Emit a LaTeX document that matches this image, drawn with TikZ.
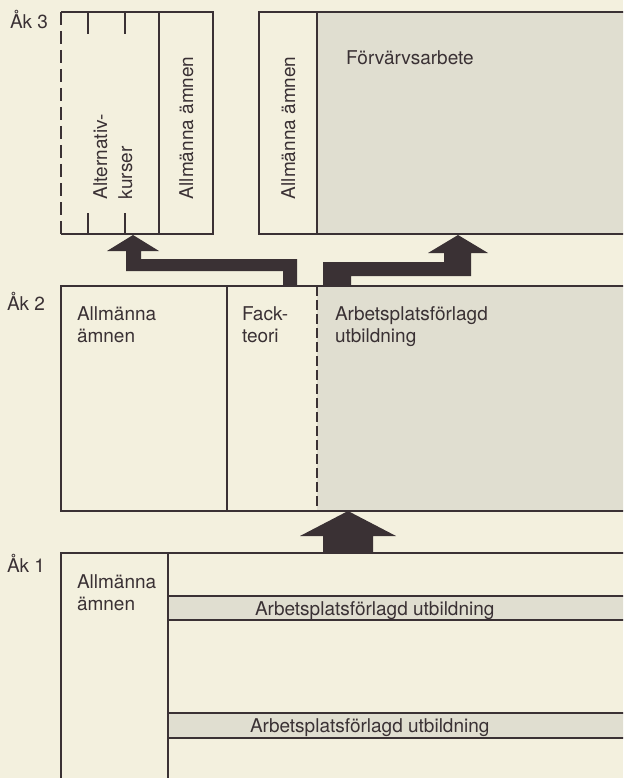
\documentclass[tikz,border=0pt]{standalone}
\usepackage{fontspec}
\setmainfont{TeX Gyre Heros}
\definecolor{paper}{HTML}{F3F0DE}
\definecolor{ink}{HTML}{3A3134}
\definecolor{screen}{HTML}{E0DED0}
\begin{document}
\begin{tikzpicture}[x=1pt,y=-1pt,
  every node/.style={inner sep=0pt,outer sep=0pt,text=ink,font=\fontsize{19}{22}\selectfont},
  area/.style={draw=none,rectangle,anchor=north west},
  frame/.style={draw=ink,line width=2.8pt},
  inner/.style={draw=ink,line width=1.3pt},
  dashline/.style={draw=ink,line width=1.4pt,dash pattern=on 10pt off 4pt},
  shade/.style={fill=screen},
  lbl/.style={anchor=base west},
  vlbl/.style={anchor=base west,rotate=90},
  blockarrow/.style={fill=ink,draw=none}]
\useasboundingbox (0,0) rectangle (623,778);
\fill[paper] (0,0) rectangle (623,778);
\clip (0,0) rectangle (623,778);

% --- areas (named boxes)
\node[area,minimum width=152pt,minimum height=222pt] (k3l) at (61,12) {};
\node[area,minimum width=380pt,minimum height=222pt] (k3r) at (259,12) {};
\node[area,minimum width=580pt,minimum height=225pt] (k2) at (61,286) {};
\node[area,minimum width=580pt,minimum height=240pt] (k1) at (61,553) {};

% --- shading
\fill[shade] (317,12) rectangle (640,234);
\fill[shade] (317,286) rectangle (640,511);
\fill[shade] (168,596) rectangle (640,620);
\fill[shade] (168,713) rectangle (640,738);

% --- Åk 3 left box
\draw[frame] (k3l.south west) -- (k3l.south east) -- (k3l.north east) -- (k3l.north west);
\draw[ink,line width=1.6pt,dash pattern=on 13pt off 6pt] (k3l.north west) -- (k3l.south west);
\draw[inner] (159,12) -- (159,234);
\draw[inner] (88,12) -- (88,34);
\draw[inner] (88,213) -- (88,234);
\draw[inner] (125,12) -- (125,34);
\draw[inner] (125,213) -- (125,234);

% --- Åk 3 right box
\draw[frame] (k3r.north east) -- (k3r.north west) -- (k3r.south west) -- (k3r.south east);
\draw[inner] (317,12) -- (317,234);

% --- Åk 2 box
\draw[frame] (k2.north east) -- (k2.north west) -- (k2.south west) -- (k2.south east);
\draw[inner] (227,286) -- (227,511);
\draw[dashline] (317,286) -- (317,511);

% --- Åk 1 box
\draw[frame] (k1.north east) -- (k1.north west) -- (k1.south west);
\draw[inner] (168,553) -- (168,778);
\draw[inner] (168,596) -- (640,596);
\draw[inner] (168,620) -- (640,620);
\draw[inner] (168,713) -- (640,713);
\draw[inner] (168,738) -- (640,738);

% --- year labels
\node[lbl] (ak3) at (10,29) {Åk 3};
\node[lbl] (ak2) at (7,310) {Åk 2};
\node[lbl] (ak1) at (7,572) {Åk 1};

% --- Åk 3 texts
\node[vlbl] (alt1) at (107,199) {Alternativ-};
\node[vlbl] (alt2) at (132,199) {kurser};
\node[vlbl] (allm3l) at (193,199) {Allmänna ämnen};
\node[vlbl] (allm3r) at (295,199) {Allmänna ämnen};
\node[lbl] (forv) at (346,65) {Förvärvsarbete};

% --- Åk 2 texts
\node[lbl] (allm2a) at (77,320) {Allmänna};
\node[lbl] (allm2b) at (77,342) {ämnen};
\node[lbl] (fack1) at (242,320) {Fack-};
\node[lbl] (fack2) at (242,342) {teori};
\node[lbl] (apl2a) at (335,320) {Arbetsplatsförlagd};
\node[lbl] (apl2b) at (335,342) {utbildning};

% --- Åk 1 texts
\node[lbl] (allm1a) at (77,588) {Allmänna};
\node[lbl] (allm1b) at (77,610) {ämnen};
\node[lbl] (apl1a) at (255,615) {Arbetsplatsförlagd utbildning};
\node[lbl] (apl1b) at (250,732) {Arbetsplatsförlagd utbildning};

% --- block arrows (from Åk 2 up to Åk 3, from Åk 1 up to Åk 2)
\fill[blockarrow] (283,286) -- (283,271) -- (126,271) -- (126,251) -- (107,251)
  -- (133,235) -- (159,251) -- (141,251) -- (141,259) -- (297,259) -- (297,286) -- cycle;
\fill[blockarrow] (323,286) -- (323,262) -- (444,262) -- (444,253) -- (428,253)
  -- (458,235) -- (488,253) -- (471,253) -- (471,276) -- (351,276) -- (351,286) -- cycle;
\fill[blockarrow] (323,553) -- (323,536) -- (300,536) -- (348,511) -- (396,536)
  -- (373,536) -- (373,553) -- cycle;
\end{tikzpicture}
\end{document}
